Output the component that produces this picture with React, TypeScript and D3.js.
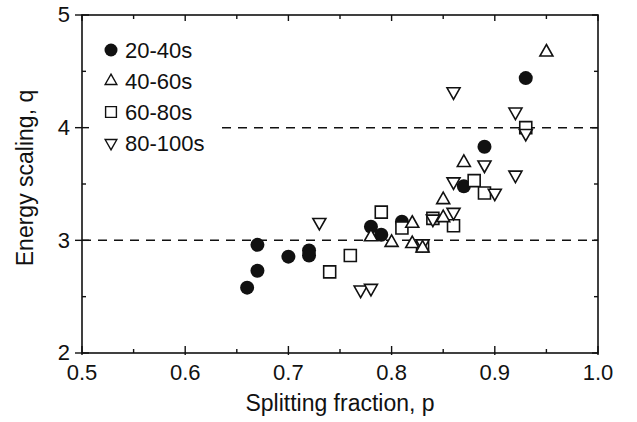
import { useRef, useEffect } from 'react'
import * as d3 from 'd3'

const WIDTH = 637
const HEIGHT = 422
const BOX = { left: 82, right: 598, top: 15, bottom: 353 }
const FONT = '"Liberation Sans", Arial, Helvetica, sans-serif'

// [splitting fraction p, energy scaling q]
const s20_40: [number, number][] = [
  [0.66, 2.58], [0.67, 2.73], [0.67, 2.96], [0.7, 2.855], [0.72, 2.91], [0.72, 2.865],
  [0.78, 3.12], [0.79, 3.05], [0.81, 3.165], [0.87, 3.48], [0.89, 3.83], [0.93, 4.44],
]
const s40_60: [number, number][] = [
  [0.78, 3.03], [0.8, 2.98], [0.82, 2.97], [0.82, 3.15], [0.83, 2.93], [0.85, 3.2],
  [0.85, 3.36], [0.87, 3.69], [0.95, 4.67],
]
const s60_80: [number, number][] = [
  [0.74, 2.72], [0.76, 2.865], [0.79, 3.25], [0.81, 3.11], [0.83, 2.95], [0.84, 3.195],
  [0.86, 3.13], [0.88, 3.53], [0.89, 3.42], [0.93, 4.0],
]
const s80_100: [number, number][] = [
  [0.73, 3.16], [0.77, 2.56], [0.78, 2.575], [0.83, 2.97], [0.84, 3.19], [0.86, 3.25],
  [0.86, 3.52], [0.86, 4.32], [0.89, 3.67], [0.9, 3.42], [0.92, 3.58], [0.92, 4.14], [0.93, 3.95],
]

const LEGEND = ['20-40s', '40-60s', '60-80s', '80-100s']
const X_TICKS = [0.5, 0.6, 0.7, 0.8, 0.9, 1.0]
const X_MINOR = [0.55, 0.65, 0.75, 0.85, 0.95]
const Y_TICKS = [2, 3, 4, 5]
const Y_MINOR = [2.5, 3.5, 4.5]
const REF_LINES = [3, 4]

type Shape = 'circle' | 'up' | 'square' | 'down'

function markerPath(shape: Shape, x: number, y: number, k = 1): string {
  if (shape === 'square') {
    const h = 6 * k
    return `M${x - h},${y - h}H${x + h}V${y + h}H${x - h}Z`
  }
  const w = 6.5 * k
  const h = 11.5 * k
  if (shape === 'up') {
    return `M${x},${y - (h * 2) / 3}L${x + w},${y + h / 3}L${x - w},${y + h / 3}Z`
  }
  return `M${x},${y + (h * 2) / 3}L${x + w},${y - h / 3}L${x - w},${y - h / 3}Z`
}

export default function App() {
  const svgRef = useRef<SVGSVGElement>(null)

  useEffect(() => {
    if (!svgRef.current) return
    const svg = d3.select(svgRef.current)
    svg.selectAll('*').remove()

    const x = d3.scaleLinear().domain([0.5, 1.0]).range([BOX.left, BOX.right])
    const y = d3.scaleLinear().domain([2, 5]).range([BOX.bottom, BOX.top])

    svg.append('rect').attr('width', WIDTH).attr('height', HEIGHT).attr('fill', '#fff')

    // dashed reference lines
    svg
      .selectAll('.ref')
      .data(REF_LINES)
      .join('line')
      .attr('x1', (d) => (d === 4 ? 222 : BOX.left))
      .attr('x2', BOX.right)
      .attr('y1', (d) => y(d))
      .attr('y2', (d) => y(d))
      .attr('stroke', '#111')
      .attr('stroke-width', 1.5)
      .attr('stroke-dasharray', '9 7')

    // frame
    svg
      .append('rect')
      .attr('x', BOX.left)
      .attr('y', BOX.top)
      .attr('width', BOX.right - BOX.left)
      .attr('height', BOX.bottom - BOX.top)
      .attr('fill', 'none')
      .attr('stroke', '#111')
      .attr('stroke-width', 1.6)

    const ticks = svg.append('g').attr('stroke', '#111').attr('stroke-width', 1.4)
    X_TICKS.forEach((t) => {
      ticks.append('line').attr('x1', x(t)).attr('x2', x(t)).attr('y1', BOX.bottom + 2).attr('y2', BOX.bottom - 7)
      ticks.append('line').attr('x1', x(t)).attr('x2', x(t)).attr('y1', BOX.top).attr('y2', BOX.top + 6)
    })
    X_MINOR.forEach((t) => {
      ticks.append('line').attr('x1', x(t)).attr('x2', x(t)).attr('y1', BOX.bottom).attr('y2', BOX.bottom - 4)
      ticks.append('line').attr('x1', x(t)).attr('x2', x(t)).attr('y1', BOX.top).attr('y2', BOX.top + 4)
    })
    Y_TICKS.forEach((t) => {
      ticks.append('line').attr('x1', BOX.left - 7).attr('x2', BOX.left + 7).attr('y1', y(t)).attr('y2', y(t))
      ticks.append('line').attr('x1', BOX.right).attr('x2', BOX.right - 6).attr('y1', y(t)).attr('y2', y(t))
    })
    Y_MINOR.forEach((t) => {
      ticks.append('line').attr('x1', BOX.left).attr('x2', BOX.left + 4).attr('y1', y(t)).attr('y2', y(t))
      ticks.append('line').attr('x1', BOX.right).attr('x2', BOX.right - 4).attr('y1', y(t)).attr('y2', y(t))
    })

    const text = svg.append('g').attr('font-family', FONT).attr('fill', '#111')
    text
      .selectAll('.xl')
      .data(X_TICKS)
      .join('text')
      .attr('x', (d) => x(d))
      .attr('y', 380)
      .attr('text-anchor', 'middle')
      .attr('font-size', 22)
      .text((d) => d3.format('.1f')(d))
    text
      .selectAll('.yl')
      .data(Y_TICKS)
      .join('text')
      .attr('x', 70)
      .attr('y', (d) => y(d))
      .attr('dy', '0.34em')
      .attr('text-anchor', 'end')
      .attr('font-size', 22)
      .text((d) => String(d))
    text
      .append('text')
      .attr('x', (BOX.left + BOX.right) / 2)
      .attr('y', 411)
      .attr('text-anchor', 'middle')
      .attr('font-size', 23)
      .text('Splitting fraction, p')
    text
      .append('text')
      .attr('transform', `translate(33,${178}) rotate(-90)`)
      .attr('text-anchor', 'middle')
      .attr('font-size', 23)
      .text('Energy scaling, q')

    // data
    const plot = svg.append('g')
    plot
      .selectAll('.c')
      .data(s20_40)
      .join('circle')
      .attr('cx', (d) => x(d[0]))
      .attr('cy', (d) => y(d[1]))
      .attr('r', 7)
      .attr('fill', '#111')

    const open: [Shape, [number, number][]][] = [
      ['square', s60_80],
      ['down', s80_100],
      ['up', s40_60],
    ]
    open.forEach(([shape, data]) => {
      plot
        .append('g')
        .selectAll('path')
        .data(data)
        .join('path')
        .attr('d', (d) => markerPath(shape, x(d[0]), y(d[1])))
        .attr('fill', '#fff')
        .attr('stroke', '#111')
        .attr('stroke-width', 1.6)
        .attr('stroke-linejoin', 'miter')
    })

    // legend
    const shapes: Shape[] = ['circle', 'up', 'square', 'down']
    const rowY = d3.scalePoint<string>().domain(LEGEND).range([50, 143])
    const lg = svg.append('g')
    LEGEND.forEach((label, i) => {
      const cy = rowY(label) ?? 0
      if (shapes[i] === 'circle') {
        lg.append('circle').attr('cx', 111).attr('cy', cy).attr('r', 6.5).attr('fill', '#111')
      } else {
        lg.append('path')
          .attr('d', markerPath(shapes[i], 111, cy, 0.9))
          .attr('fill', '#fff')
          .attr('stroke', '#111')
          .attr('stroke-width', 1.4)
      }
      lg.append('text')
        .attr('x', 125)
        .attr('y', cy)
        .attr('dy', '0.36em')
        .attr('font-family', FONT)
        .attr('font-size', 22)
        .attr('fill', '#111')
        .text(label)
    })
  }, [])

  return (
    <svg
      ref={svgRef}
      width={WIDTH}
      height={HEIGHT}
      style={{ position: 'absolute', left: 0, top: 0, display: 'block' }}
    />
  )
}
